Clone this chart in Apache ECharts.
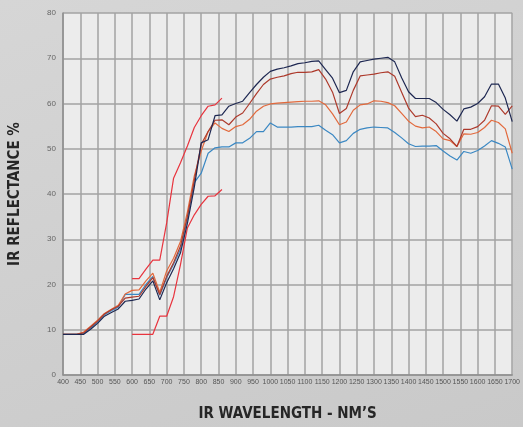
<!DOCTYPE html>
<html>

<head>
    <meta charset="UTF-8">
    <title>IR Reflectance</title>
    <script src="https://cdn.jsdelivr.net/npm/echarts@6/dist/echarts.min.js"></script>
    <style>
        html, body { margin: 0; padding: 0; }
        #chart { width: 523px; height: 427px; background: linear-gradient(160deg, #d6d6d6, #c9c9c9); }
    </style>
</head>

<body>
    <div id="chart"></div>

    <script>

        // wavelength (nm) for the four main curves
        var wl = [400, 420, 440, 460, 480, 500, 520, 540, 560, 580, 600, 620, 640, 660, 680, 700, 720, 740, 760, 780,
            800, 820, 840, 860, 880, 900, 920, 940, 960, 980, 1000, 1020, 1040, 1060, 1080, 1100, 1120, 1140, 1160, 1180,
            1200, 1220, 1240, 1260, 1280, 1300, 1320, 1340, 1360, 1380, 1400, 1420, 1440, 1460, 1480, 1500, 1520, 1540, 1560, 1580,
            1600, 1620, 1640, 1660, 1680, 1700];

        var navy = [9.0, 9.0, 9.0, 9.0, 10.1, 11.4, 13.0, 13.8, 14.6, 16.3, 16.5, 16.8, 19.0, 20.8, 16.6, 20.4, 23.5, 27.0, 33.5, 41.5,
            51.3, 52.0, 57.3, 57.5, 59.4, 60.0, 60.5, 62.4, 64.2, 65.8, 67.1, 67.6, 67.9, 68.3, 68.8, 69.0, 69.3, 69.4, 67.5, 65.6,
            62.4, 62.9, 67.0, 69.2, 69.5, 69.8, 70.0, 70.2, 69.2, 65.7, 62.6, 61.1, 61.1, 61.1, 60.2, 58.7, 57.5, 56.1, 58.8, 59.2,
            60.0, 61.5, 64.3, 64.3, 61.2, 56.0];

        var darkRed = [9.0, 9.0, 9.0, 9.3, 10.6, 11.9, 13.5, 14.4, 15.2, 17.0, 17.2, 17.4, 19.6, 21.5, 17.8, 21.8, 24.8, 28.5, 35.0, 43.0,
            51.0, 53.8, 56.3, 56.4, 55.3, 57.0, 57.9, 60.0, 62.2, 64.2, 65.4, 65.8, 66.1, 66.6, 66.9, 66.9, 67.0, 67.5, 65.4, 62.5,
            57.8, 58.9, 62.9, 66.1, 66.3, 66.5, 66.8, 67.0, 66.0, 62.5, 59.0, 57.1, 57.4, 56.8, 55.5, 53.4, 52.2, 50.5, 54.3, 54.3,
            54.9, 56.3, 59.5, 59.4, 57.6, 59.5];

        var orange = [9.0, 9.0, 9.0, 9.5, 10.8, 12.1, 13.6, 14.5, 15.4, 17.9, 18.7, 18.8, 20.8, 22.5, 18.3, 23.0, 25.8, 29.5, 36.0, 44.0,
            49.5, 53.8, 55.7, 54.5, 53.8, 54.9, 55.3, 56.5, 58.3, 59.4, 59.9, 60.1, 60.2, 60.3, 60.4, 60.5, 60.5, 60.6, 59.7, 57.7,
            55.3, 55.9, 58.5, 59.7, 59.9, 60.6, 60.5, 60.2, 59.5, 57.8, 56.1, 55.0, 54.6, 54.8, 53.8, 52.2, 51.8, 50.5, 53.3, 53.2,
            53.6, 54.7, 56.3, 55.8, 54.4, 49.0];

        var blue = [9.0, 9.0, 9.0, 9.1, 10.4, 11.7, 13.3, 14.2, 15.0, 17.8, 17.8, 17.8, 20.0, 21.8, 17.6, 21.5, 24.5, 27.8, 34.5, 42.5,
            44.6, 49.0, 50.2, 50.4, 50.4, 51.3, 51.3, 52.3, 53.8, 53.8, 55.7, 54.8, 54.8, 54.8, 54.9, 54.9, 54.9, 55.2, 54.1, 53.1,
            51.3, 51.8, 53.4, 54.3, 54.6, 54.8, 54.7, 54.6, 53.6, 52.4, 51.1, 50.5, 50.6, 50.6, 50.7, 49.5, 48.4, 47.5, 49.4, 49.0,
            49.6, 50.6, 51.8, 51.2, 50.4, 45.5];

        // the two red limit curves
        var wlRed = [600, 620, 640, 660, 680, 700, 720, 740, 760, 780, 800, 820, 840, 860];
        var redUpper = [21.3, 21.3, 23.4, 25.4, 25.4, 33.6, 43.5, 46.9, 50.6, 54.7, 57.3, 59.4, 59.7, 61.2];
        var redLower = [9.0, 9.0, 9.0, 9.0, 13.0, 13.0, 17.3, 24.4, 32.5, 35.4, 37.7, 39.5, 39.6, 41.0];

        function pairs(xs, ys) {
            return xs.map(function (x, i) { return [x, ys[i]]; });
        }

        function line(data, color) {
            return {
                type: 'line',
                data: data,
                symbol: 'none',
                silent: true,
                lineStyle: { color: color, width: 1.2 }
            };
        }

        var myChart = echarts.init(document.getElementById('chart'), null, { renderer: 'canvas' });

        var option = {
            backgroundColor: 'transparent',
            animation: false,
            grid: {
                left: 57,
                right: 6,
                top: 13,
                bottom: 52,
                show: true,
                backgroundColor: '#ececec',
                borderWidth: 0
            },
            xAxis: {
                type: 'value',
                min: 400,
                max: 1700,
                interval: 50,
                name: 'IR WAVELENGTH - NM\u2019S',
                nameLocation: 'middle',
                nameGap: 32,
                nameTextStyle: {
                    fontFamily: 'DejaVu Sans Condensed',
                    fontWeight: 'bold',
                    fontSize: 15,
                    color: '#262626'
                },
                axisLine: { show: true, lineStyle: { color: '#8f8f8f', width: 1.5 } },
                axisTick: { show: false },
                axisLabel: {
                    color: '#555',
                    fontSize: 7,
                    margin: 4,
                    fontFamily: 'Liberation Sans',
                    formatter: function (v) { return String(v); }
                },
                splitLine: { show: true, lineStyle: { color: '#a3a3a3', width: 1.5 } }
            },
            yAxis: {
                type: 'value',
                min: 0,
                max: 80,
                interval: 10,
                name: 'IR REFLECTANCE %',
                nameLocation: 'middle',
                nameGap: 40,
                nameTextStyle: {
                    fontFamily: 'DejaVu Sans Condensed',
                    fontWeight: 'bold',
                    fontSize: 15,
                    color: '#262626'
                },
                axisLine: { show: true, lineStyle: { color: '#8f8f8f', width: 1.5 } },
                axisTick: { show: false },
                axisLabel: {
                    color: '#666',
                    fontSize: 8,
                    margin: 7,
                    fontFamily: 'Liberation Sans'
                },
                splitLine: { show: true, lineStyle: { color: '#a3a3a3', width: 1.5 } }
            },
            series: [
                line(pairs(wlRed, redUpper), '#e8343e'),
                line(pairs(wlRed, redLower), '#e8343e'),
                line(pairs(wl, blue), '#3b88c3'),
                line(pairs(wl, orange), '#e2693c'),
                line(pairs(wl, darkRed), '#ad3a2c'),
                line(pairs(wl, navy), '#1e2852')
            ]
        };

        myChart.setOption(option);

    </script>
</body>

</html>
